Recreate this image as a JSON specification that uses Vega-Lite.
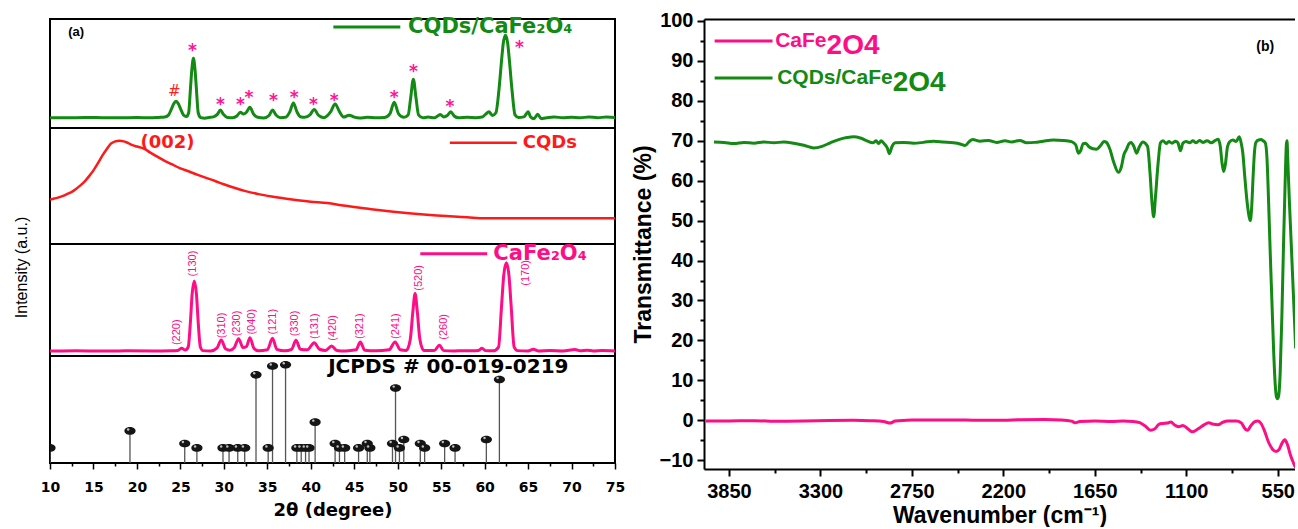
{
"$schema": "https://vega.github.io/schema/vega-lite/v6.json",
"background": "white",
"padding": {"left": 14, "top": 10, "right": 0, "bottom": 0},
"config": {"view": {"stroke": null}, "axis": {"grid": false, "domainColor": "black", "tickColor": "black", "labelColor": "black", "titleColor": "black"}},
"datasets": {
"gx": [{"t":10,"i":9.5},{"t":12,"i":9.4},{"t":14,"i":9.6},{"t":16,"i":9.5},{"t":18,"i":9.4},{"t":20,"i":9.6},{"t":21.5,"i":9.4},{"t":22.5,"i":9.7},{"t":23.2,"i":10},{"t":23.6,"i":11.5},{"t":24.0,"i":18},{"t":24.25,"i":22.5},{"t":24.5,"i":24.5},{"t":24.75,"i":22.5},{"t":25.0,"i":18},{"t":25.35,"i":12},{"t":25.7,"i":10.5},{"t":25.95,"i":14},{"t":26.15,"i":35},{"t":26.3,"i":52},{"t":26.5,"i":63.9},{"t":26.7,"i":52},{"t":26.85,"i":35},{"t":27.05,"i":14},{"t":27.35,"i":9.5},{"t":27.8,"i":9},{"t":28.3,"i":9.6},{"t":28.8,"i":10.2},{"t":29.25,"i":12.5},{"t":29.6,"i":16.4},{"t":29.95,"i":12.5},{"t":30.4,"i":9.6},{"t":31.0,"i":9.4},{"t":31.5,"i":11},{"t":31.9,"i":14.5},{"t":32.25,"i":12.8},{"t":32.6,"i":14.5},{"t":33.0,"i":19.1},{"t":33.4,"i":13},{"t":33.9,"i":9.8},{"t":34.6,"i":9.2},{"t":35.2,"i":11.5},{"t":35.6,"i":16.4},{"t":36.0,"i":12},{"t":36.5,"i":9.5},{"t":37.1,"i":9.8},{"t":37.6,"i":15},{"t":38.0,"i":23},{"t":38.4,"i":15},{"t":38.8,"i":10.3},{"t":39.3,"i":9.8},{"t":39.9,"i":12},{"t":40.4,"i":17},{"t":40.9,"i":11.5},{"t":41.5,"i":9.5},{"t":42.3,"i":15},{"t":42.8,"i":22},{"t":43.3,"i":15},{"t":43.8,"i":10},{"t":44.4,"i":11.8},{"t":45.0,"i":10},{"t":45.6,"i":9.2},{"t":46.5,"i":9.8},{"t":47.5,"i":9.3},{"t":48.5,"i":9.7},{"t":49.1,"i":13},{"t":49.6,"i":23.6},{"t":50.1,"i":13},{"t":50.7,"i":9.8},{"t":51.2,"i":12},{"t":51.5,"i":28},{"t":51.8,"i":44.8},{"t":52.1,"i":28},{"t":52.4,"i":12},{"t":52.9,"i":9.3},{"t":53.5,"i":10},{"t":54.2,"i":9.3},{"t":54.6,"i":11},{"t":54.9,"i":12.4},{"t":55.3,"i":10.2},{"t":55.7,"i":11.5},{"t":56.1,"i":14.8},{"t":56.5,"i":11},{"t":57.0,"i":9.3},{"t":58.0,"i":9.8},{"t":59.0,"i":9.5},{"t":59.7,"i":10},{"t":60.1,"i":12.5},{"t":60.5,"i":14.8},{"t":60.9,"i":11.5},{"t":61.3,"i":14},{"t":61.65,"i":35},{"t":61.95,"i":62},{"t":62.15,"i":78},{"t":62.4,"i":85.2},{"t":62.65,"i":78},{"t":62.85,"i":62},{"t":63.15,"i":35},{"t":63.5,"i":12},{"t":63.9,"i":9.6},{"t":64.5,"i":10.2},{"t":64.8,"i":13},{"t":65.0,"i":14.8},{"t":65.3,"i":10},{"t":65.7,"i":8.6},{"t":66.1,"i":12.7},{"t":66.5,"i":8.6},{"t":67.0,"i":9.2},{"t":68.0,"i":10},{"t":69.0,"i":9.5},{"t":70.0,"i":9.9},{"t":71.0,"i":9.4},{"t":72.0,"i":10.1},{"t":73.0,"i":9.5},{"t":74.0,"i":10},{"t":75.0,"i":9.6}],
"rx": [{"t":10,"i":38.3},{"t":10.5,"i":39.2},{"t":11,"i":40.2},{"t":11.5,"i":41.5},{"t":12,"i":43.2},{"t":12.5,"i":45},{"t":13,"i":47.5},{"t":13.5,"i":50.5},{"t":14,"i":54},{"t":14.5,"i":58.5},{"t":15,"i":63.5},{"t":15.5,"i":69.5},{"t":16,"i":76},{"t":16.5,"i":81.5},{"t":17,"i":86.5},{"t":17.5,"i":88.5},{"t":18,"i":89.1},{"t":18.5,"i":88.5},{"t":19,"i":87},{"t":19.5,"i":85.2},{"t":20,"i":84},{"t":20.8,"i":82.3},{"t":21.5,"i":79},{"t":22.3,"i":75.5},{"t":23.1,"i":72.1},{"t":24,"i":68.8},{"t":25,"i":65.2},{"t":26,"i":62.5},{"t":27,"i":59.6},{"t":27.8,"i":57.4},{"t":29,"i":54.3},{"t":30,"i":51.5},{"t":31.2,"i":48.5},{"t":32.5,"i":45.6},{"t":34,"i":43},{"t":35.5,"i":41},{"t":37.2,"i":39.1},{"t":38.5,"i":37.8},{"t":40,"i":36.5},{"t":41.9,"i":35.3},{"t":43.5,"i":33.5},{"t":45,"i":31.8},{"t":46.6,"i":30.3},{"t":48,"i":29},{"t":49.5,"i":27.8},{"t":51.3,"i":26.5},{"t":53,"i":25.4},{"t":54.5,"i":24.6},{"t":56,"i":23.9},{"t":58,"i":23},{"t":60,"i":22.1},{"t":62,"i":22.1},{"t":65,"i":22.1},{"t":70,"i":22.1},{"t":75,"i":22.1}],
"px": [{"t":10,"i":4.5},{"t":13,"i":4.6},{"t":16,"i":4.4},{"t":19,"i":4.6},{"t":22,"i":4.5},{"t":24,"i":4.6},{"t":24.7,"i":5},{"t":25.15,"i":6.9},{"t":25.55,"i":5.3},{"t":25.9,"i":8},{"t":26.15,"i":30},{"t":26.35,"i":55},{"t":26.6,"i":67},{"t":26.85,"i":55},{"t":27.05,"i":30},{"t":27.3,"i":8},{"t":27.6,"i":4.8},{"t":28.5,"i":4.5},{"t":29.2,"i":7},{"t":29.7,"i":14.3},{"t":30.2,"i":6.5},{"t":30.7,"i":5.2},{"t":31.2,"i":7.5},{"t":31.7,"i":15.5},{"t":32.2,"i":7.5},{"t":32.6,"i":8.5},{"t":33.0,"i":16.4},{"t":33.45,"i":7},{"t":34.0,"i":4.7},{"t":35.0,"i":5.5},{"t":35.6,"i":15.8},{"t":36.1,"i":6},{"t":37.0,"i":4.6},{"t":37.8,"i":6},{"t":38.3,"i":14},{"t":38.8,"i":6},{"t":39.6,"i":5.5},{"t":40.4,"i":11.9},{"t":41.0,"i":6},{"t":41.7,"i":5},{"t":42.4,"i":8.9},{"t":43.0,"i":5},{"t":44.0,"i":4.5},{"t":45.2,"i":5.5},{"t":45.7,"i":12.5},{"t":46.2,"i":5.2},{"t":47.5,"i":4.6},{"t":49.0,"i":5.5},{"t":49.7,"i":12.5},{"t":50.3,"i":5.5},{"t":51.0,"i":5},{"t":51.45,"i":15},{"t":51.75,"i":40},{"t":52.0,"i":55.7},{"t":52.25,"i":40},{"t":52.55,"i":15},{"t":53.0,"i":5},{"t":54.2,"i":4.8},{"t":54.8,"i":9.5},{"t":55.3,"i":4.8},{"t":56.5,"i":4.5},{"t":57.5,"i":4.7},{"t":58.5,"i":4.6},{"t":59.3,"i":5},{"t":59.7,"i":6.9},{"t":60.1,"i":4.8},{"t":61.0,"i":4.6},{"t":61.6,"i":8},{"t":61.95,"i":45},{"t":62.2,"i":72},{"t":62.5,"i":83.3},{"t":62.8,"i":72},{"t":63.05,"i":45},{"t":63.4,"i":8},{"t":63.8,"i":4.8},{"t":65.0,"i":4.5},{"t":65.6,"i":6},{"t":66.2,"i":4.5},{"t":67.5,"i":4.8},{"t":69.0,"i":4.5},{"t":70.4,"i":5.8},{"t":71.0,"i":4.6},{"t":71.8,"i":5.2},{"t":72.5,"i":4.5},{"t":73.5,"i":4.8},{"t":75,"i":4.5}],
"jc": [{"t":10,"i":14.1},{"t":19.2,"i":30},{"t":25.5,"i":18.2},{"t":26.9,"i":14.1},{"t":29.9,"i":14.1},{"t":30.6,"i":14.1},{"t":31.6,"i":14.1},{"t":32.4,"i":14.1},{"t":33.7,"i":82.4},{"t":35.1,"i":14.1},{"t":35.6,"i":90.6},{"t":37.1,"i":91.8},{"t":38.4,"i":14.1},{"t":38.9,"i":14.1},{"t":39.4,"i":14.1},{"t":39.8,"i":14.1},{"t":40.5,"i":38.2},{"t":42.8,"i":18.2},{"t":43.3,"i":14.1},{"t":43.9,"i":14.1},{"t":45.5,"i":14.1},{"t":46.5,"i":18.2},{"t":46.8,"i":14.1},{"t":49.4,"i":18.2},{"t":49.75,"i":70},{"t":50.2,"i":14.1},{"t":50.7,"i":22},{"t":52.6,"i":18.2},{"t":53.1,"i":14.1},{"t":55.4,"i":18.2},{"t":56.6,"i":14.1},{"t":60.2,"i":22},{"t":61.7,"i":78}],
"stars": [{"t":26.4,"i":70.6},{"t":29.6,"i":21.5},{"t":31.9,"i":21.5},{"t":32.9,"i":27.6},{"t":35.7,"i":25.2},{"t":38.1,"i":27.6},{"t":40.3,"i":21.5},{"t":42.7,"i":25.2},{"t":49.6,"i":27.6},{"t":51.8,"i":51.2},{"t":56.0,"i":19.1},{"t":64.0,"i":73}],
"hkl": [{"t":24.6,"i":8.0,"label":"(220)"},{"t":26.5,"i":69.3,"label":"(130)"},{"t":29.75,"i":14,"label":"(310)"},{"t":31.55,"i":15.8,"label":"(230)"},{"t":33.2,"i":17.3,"label":"(040)"},{"t":35.7,"i":17.3,"label":"(121)"},{"t":38.2,"i":15.8,"label":"(330)"},{"t":40.5,"i":13.4,"label":"(131)"},{"t":42.6,"i":11.9,"label":"(420)"},{"t":45.7,"i":13.4,"label":"(321)"},{"t":49.8,"i":13.4,"label":"(241)"},{"t":52.5,"i":56.5,"label":"(520)"},{"t":55.3,"i":12.8,"label":"(260)"},{"t":64.8,"i":61,"label":"(170)"}],
"fg": [{"w":3940,"T":69.7},{"w":3880,"T":69.6},{"w":3820,"T":69.3},{"w":3760,"T":69.6},{"w":3700,"T":69.4},{"w":3640,"T":69.7},{"w":3580,"T":69.5},{"w":3520,"T":69.7},{"w":3460,"T":69.4},{"w":3400,"T":68.9},{"w":3340,"T":68.2},{"w":3290,"T":68.6},{"w":3240,"T":69.5},{"w":3190,"T":70.3},{"w":3140,"T":70.8},{"w":3100,"T":71.0},{"w":3060,"T":70.7},{"w":3020,"T":70.0},{"w":2985,"T":69.5},{"w":2965,"T":70.0},{"w":2950,"T":69.3},{"w":2935,"T":70.0},{"w":2915,"T":69.2},{"w":2898,"T":68.2},{"w":2885,"T":66.8},{"w":2870,"T":68.5},{"w":2850,"T":69.5},{"w":2800,"T":69.6},{"w":2740,"T":69.4},{"w":2680,"T":69.6},{"w":2620,"T":69.9},{"w":2560,"T":69.7},{"w":2500,"T":69.5},{"w":2460,"T":69.2},{"w":2430,"T":68.8},{"w":2405,"T":69.8},{"w":2385,"T":70.3},{"w":2340,"T":69.9},{"w":2290,"T":70.1},{"w":2240,"T":69.6},{"w":2190,"T":70.0},{"w":2150,"T":69.7},{"w":2100,"T":70.1},{"w":2060,"T":69.5},{"w":2010,"T":69.6},{"w":1960,"T":69.9},{"w":1900,"T":70.2},{"w":1840,"T":70.1},{"w":1790,"T":69.8},{"w":1765,"T":69.0},{"w":1748,"T":66.9},{"w":1735,"T":67.5},{"w":1720,"T":69.3},{"w":1705,"T":69.4},{"w":1685,"T":68.5},{"w":1660,"T":68.0},{"w":1640,"T":67.9},{"w":1615,"T":68.8},{"w":1595,"T":69.8},{"w":1580,"T":69.6},{"w":1560,"T":68.0},{"w":1535,"T":64.5},{"w":1508,"T":62.1},{"w":1490,"T":63.5},{"w":1475,"T":66.5},{"w":1460,"T":67.8},{"w":1445,"T":69.2},{"w":1432,"T":69.6},{"w":1415,"T":68.6},{"w":1398,"T":66.9},{"w":1382,"T":68.5},{"w":1360,"T":69.7},{"w":1345,"T":69.3},{"w":1332,"T":68.5},{"w":1318,"T":62},{"w":1305,"T":54},{"w":1296,"T":51},{"w":1285,"T":56},{"w":1270,"T":64},{"w":1255,"T":69.5},{"w":1240,"T":70.0},{"w":1220,"T":69.3},{"w":1205,"T":69.8},{"w":1185,"T":69.4},{"w":1165,"T":69.9},{"w":1150,"T":69.5},{"w":1135,"T":67.5},{"w":1120,"T":69.4},{"w":1100,"T":69.8},{"w":1080,"T":69.5},{"w":1060,"T":70.0},{"w":1040,"T":69.5},{"w":1020,"T":70.1},{"w":1000,"T":69.6},{"w":975,"T":70.0},{"w":950,"T":69.5},{"w":925,"T":70.1},{"w":908,"T":70.4},{"w":895,"T":68.5},{"w":885,"T":64.5},{"w":875,"T":62.3},{"w":865,"T":64},{"w":852,"T":68.5},{"w":840,"T":69.7},{"w":820,"T":70.2},{"w":800,"T":69.8},{"w":781,"T":71},{"w":770,"T":69.5},{"w":760,"T":67},{"w":748,"T":61},{"w":735,"T":55},{"w":722,"T":51},{"w":715,"T":50},{"w":707,"T":53},{"w":698,"T":61},{"w":690,"T":67},{"w":681,"T":69.6},{"w":665,"T":70.2},{"w":650,"T":70.3},{"w":638,"T":70.0},{"w":625,"T":69.5},{"w":615,"T":66},{"w":605,"T":55},{"w":595,"T":42},{"w":585,"T":30},{"w":575,"T":18},{"w":565,"T":9},{"w":557,"T":5.8},{"w":550,"T":5.4},{"w":543,"T":6.5},{"w":535,"T":12},{"w":525,"T":26},{"w":515,"T":44},{"w":505,"T":60},{"w":498,"T":69},{"w":494,"T":70},{"w":490,"T":66},{"w":480,"T":55},{"w":470,"T":45.5},{"w":460,"T":35.7},{"w":450,"T":26},{"w":442,"T":18}],
"fp": [{"w":3990,"T":-0.2},{"w":3850,"T":-0.15},{"w":3700,"T":-0.1},{"w":3550,"T":-0.25},{"w":3400,"T":-0.2},{"w":3250,"T":-0.05},{"w":3100,"T":0},{"w":3000,"T":-0.1},{"w":2920,"T":-0.3},{"w":2882,"T":-0.7},{"w":2850,"T":-0.2},{"w":2750,"T":0.05},{"w":2650,"T":0.1},{"w":2500,"T":0.1},{"w":2350,"T":0},{"w":2200,"T":0},{"w":2100,"T":0.15},{"w":1950,"T":0.2},{"w":1850,"T":0.1},{"w":1790,"T":-0.2},{"w":1768,"T":-0.6},{"w":1740,"T":-0.3},{"w":1650,"T":-0.2},{"w":1550,"T":-0.3},{"w":1480,"T":-0.2},{"w":1420,"T":-0.3},{"w":1380,"T":-0.6},{"w":1345,"T":-1.5},{"w":1315,"T":-2.5},{"w":1290,"T":-2.2},{"w":1265,"T":-1.0},{"w":1240,"T":-0.8},{"w":1215,"T":-0.7},{"w":1192,"T":-0.4},{"w":1170,"T":-1.2},{"w":1145,"T":-1.6},{"w":1120,"T":-1.3},{"w":1100,"T":-1.8},{"w":1062,"T":-2.9},{"w":1030,"T":-2.2},{"w":995,"T":-1.2},{"w":965,"T":-0.6},{"w":935,"T":-1.0},{"w":910,"T":-1.1},{"w":880,"T":-0.5},{"w":850,"T":-0.2},{"w":800,"T":-0.2},{"w":770,"T":-0.6},{"w":745,"T":-2.2},{"w":731,"T":-2.5},{"w":712,"T":-1.4},{"w":690,"T":-0.4},{"w":670,"T":-0.2},{"w":650,"T":-0.8},{"w":630,"T":-2.6},{"w":605,"T":-5.5},{"w":580,"T":-7.3},{"w":560,"T":-7.8},{"w":540,"T":-7.2},{"w":525,"T":-5.8},{"w":508,"T":-4.9},{"w":492,"T":-6},{"w":475,"T":-8.5},{"w":460,"T":-10.2},{"w":450,"T":-11.2},{"w":442,"T":-11.8}]
},
"spacing": 6,
"hconcat": [
{
"bounds": "flush",
"spacing": 0,
"title": {"text": "Intensity (a.u.)", "orient": "left", "anchor": "middle", "font": "Liberation Sans Narrow, Liberation Sans", "fontSize": 16, "fontWeight": "normal", "color": "black", "offset": 9},
"vconcat": [
{
"width": 565, "height": 109,
"view": {"stroke": "black", "strokeWidth": 2},
"layer": [
{"data": {"name": "gx"}, "mark": {"type": "line", "color": "#138a13", "strokeWidth": 3, "interpolate": "monotone", "clip": true},
 "encoding": {"x": {"field": "t", "type": "quantitative", "scale": {"domain": [10, 75], "nice": false}, "axis": null}, "y": {"field": "i", "type": "quantitative", "scale": {"domain": [0, 100], "nice": false}, "axis": null}}},
{"data": {"values": [{"t": 42.6, "t2": 50.3, "i": 92.7}]}, "mark": {"type": "rule", "color": "#138a13", "strokeWidth": 3},
 "encoding": {"x": {"field": "t", "type": "quantitative", "scale": {"domain": [10, 75], "nice": false}, "axis": null}, "x2": {"field": "t2"}, "y": {"field": "i", "type": "quantitative", "scale": {"domain": [0, 100], "nice": false}, "axis": null}}},
{"data": {"values": [{"t": 51.2, "i": 92.7, "label": "CQDs/CaFe₂O₄"}]}, "mark": {"type": "text", "align": "left", "baseline": "middle", "font": "DejaVu Sans", "fontWeight": "bold", "fontSize": 21, "color": "#138a13"},
 "encoding": {"x": {"field": "t", "type": "quantitative", "scale": {"domain": [10, 75], "nice": false}, "axis": null}, "y": {"field": "i", "type": "quantitative", "scale": {"domain": [0, 100], "nice": false}, "axis": null}, "text": {"field": "label"}}},
{"data": {"name": "stars"}, "mark": {"type": "text", "text": "*", "align": "center", "baseline": "middle", "font": "DejaVu Sans", "fontWeight": "bold", "fontSize": 17, "color": "#ff1493"},
 "encoding": {"x": {"field": "t", "type": "quantitative", "scale": {"domain": [10, 75], "nice": false}, "axis": null}, "y": {"field": "i", "type": "quantitative", "scale": {"domain": [0, 100], "nice": false}, "axis": null}}},
{"data": {"values": [{"t": 24.3, "i": 33.6, "label": "#"}]}, "mark": {"type": "text", "align": "center", "baseline": "middle", "font": "DejaVu Sans", "fontWeight": "normal", "fontSize": 15, "color": "#ff2020"},
 "encoding": {"x": {"field": "t", "type": "quantitative", "scale": {"domain": [10, 75], "nice": false}, "axis": null}, "y": {"field": "i", "type": "quantitative", "scale": {"domain": [0, 100], "nice": false}, "axis": null}, "text": {"field": "label"}}},
{"data": {"values": [{"t": 12.1, "i": 88, "label": "(a)"}]}, "mark": {"type": "text", "align": "left", "baseline": "middle", "font": "Liberation Sans", "fontWeight": "bold", "fontSize": 13, "color": "black"},
 "encoding": {"x": {"field": "t", "type": "quantitative", "scale": {"domain": [10, 75], "nice": false}, "axis": null}, "y": {"field": "i", "type": "quantitative", "scale": {"domain": [0, 100], "nice": false}, "axis": null}, "text": {"field": "label"}}}
]
},
{
"width": 565, "height": 116,
"view": {"stroke": "black", "strokeWidth": 2},
"layer": [
{"data": {"name": "rx"}, "mark": {"type": "line", "color": "#ff1a1a", "strokeWidth": 2.5, "interpolate": "monotone", "clip": true},
 "encoding": {"x": {"field": "t", "type": "quantitative", "scale": {"domain": [10, 75], "nice": false}, "axis": null}, "y": {"field": "i", "type": "quantitative", "scale": {"domain": [0, 100], "nice": false}, "axis": null}}},
{"data": {"values": [{"t": 56.0, "t2": 63.7, "i": 87.3}]}, "mark": {"type": "rule", "color": "#ff1a1a", "strokeWidth": 2.5},
 "encoding": {"x": {"field": "t", "type": "quantitative", "scale": {"domain": [10, 75], "nice": false}, "axis": null}, "x2": {"field": "t2"}, "y": {"field": "i", "type": "quantitative", "scale": {"domain": [0, 100], "nice": false}, "axis": null}}},
{"data": {"values": [{"t": 64.4, "i": 87.3, "label": "CQDs"}, {"t": 20.4, "i": 87.5, "label": "(002)"}]}, "mark": {"type": "text", "align": "left", "baseline": "middle", "font": "DejaVu Sans", "fontWeight": "bold", "fontSize": 18, "color": "#ff1a1a"},
 "encoding": {"x": {"field": "t", "type": "quantitative", "scale": {"domain": [10, 75], "nice": false}, "axis": null}, "y": {"field": "i", "type": "quantitative", "scale": {"domain": [0, 100], "nice": false}, "axis": null}, "text": {"field": "label"}}}
]
},
{
"width": 565, "height": 112,
"view": {"stroke": "black", "strokeWidth": 2},
"layer": [
{"data": {"name": "px"}, "mark": {"type": "line", "color": "#ff0d86", "strokeWidth": 3, "interpolate": "monotone", "clip": true},
 "encoding": {"x": {"field": "t", "type": "quantitative", "scale": {"domain": [10, 75], "nice": false}, "axis": null}, "y": {"field": "i", "type": "quantitative", "scale": {"domain": [0, 100], "nice": false}, "axis": null}}},
{"data": {"values": [{"t": 52.6, "t2": 60.3, "i": 91.3}]}, "mark": {"type": "rule", "color": "#ff0d86", "strokeWidth": 3},
 "encoding": {"x": {"field": "t", "type": "quantitative", "scale": {"domain": [10, 75], "nice": false}, "axis": null}, "x2": {"field": "t2"}, "y": {"field": "i", "type": "quantitative", "scale": {"domain": [0, 100], "nice": false}, "axis": null}}},
{"data": {"values": [{"t": 61.0, "i": 91.3, "label": "CaFe₂O₄"}]}, "mark": {"type": "text", "align": "left", "baseline": "middle", "font": "DejaVu Sans", "fontWeight": "bold", "fontSize": 21, "color": "#ff0d86"},
 "encoding": {"x": {"field": "t", "type": "quantitative", "scale": {"domain": [10, 75], "nice": false}, "axis": null}, "y": {"field": "i", "type": "quantitative", "scale": {"domain": [0, 100], "nice": false}, "axis": null}, "text": {"field": "label"}}},
{"data": {"name": "hkl"}, "mark": {"type": "text", "angle": 270, "align": "left", "baseline": "middle", "dx": 2, "font": "Liberation Sans Narrow, Liberation Sans", "fontSize": 11, "color": "#ff0d86"},
 "encoding": {"x": {"field": "t", "type": "quantitative", "scale": {"domain": [10, 75], "nice": false}, "axis": null}, "y": {"field": "i", "type": "quantitative", "scale": {"domain": [0, 100], "nice": false}, "axis": null}, "text": {"field": "label"}}}
]
},
{
"width": 565, "height": 107,
"view": {"stroke": "black", "strokeWidth": 2},
"resolve": {"axis": {"x": "independent"}},
"layer": [
{"data": {"name": "jc"}, "mark": {"type": "rule", "color": "#555555", "strokeWidth": 1.3, "clip": true},
 "encoding": {"x": {"field": "t", "type": "quantitative", "scale": {"domain": [10, 75], "nice": false},
   "axis": {"orient": "bottom", "values": [10, 15, 20, 25, 30, 35, 40, 45, 50, 55, 60, 65, 70, 75], "domain": false, "tickSize": 6, "tickWidth": 1.5, "labelFont": "DejaVu Sans", "labelFontWeight": "bold", "labelFontSize": 14, "labelPadding": 11, "labelFlush": false, "title": "2θ (degree)", "titleFont": "DejaVu Sans", "titleFontWeight": "bold", "titleFontSize": 18, "titlePadding": 7}},
  "y": {"field": "i", "type": "quantitative", "scale": {"domain": [0, 100], "nice": false}, "axis": null}, "y2": {"datum": 0}}},
{"data": {"name": "jc"}, "mark": {"type": "point", "filled": true, "shape": "M -1.25 0 A 1.25 0.85 0 1 1 1.25 0 A 1.25 0.85 0 1 1 -1.25 0 Z", "size": 80, "color": "#151515", "opacity": 1, "clip": true},
 "encoding": {"x": {"field": "t", "type": "quantitative", "scale": {"domain": [10, 75], "nice": false},
   "axis": {"orient": "bottom", "values": [12.5, 17.5, 22.5, 27.5, 32.5, 37.5, 42.5, 47.5, 52.5, 57.5, 62.5, 67.5, 72.5], "domain": false, "tickSize": 3, "tickWidth": 1.5, "labels": false, "title": null}},
  "y": {"field": "i", "type": "quantitative", "scale": {"domain": [0, 100], "nice": false}, "axis": null}}},
{"data": {"name": "jc"}, "mark": {"type": "point", "filled": true, "shape": "circle", "size": 6, "color": "#d0d0d0", "opacity": 0.9, "xOffset": -1.8, "yOffset": -1.5, "clip": true},
 "encoding": {"x": {"field": "t", "type": "quantitative", "scale": {"domain": [10, 75], "nice": false}, "axis": null},
  "y": {"field": "i", "type": "quantitative", "scale": {"domain": [0, 100], "nice": false}, "axis": null}}},
{"data": {"values": [{"t": 42.0, "i": 89.7, "label": "JCPDS # 00-019-0219"}]}, "mark": {"type": "text", "align": "left", "baseline": "middle", "font": "DejaVu Sans", "fontWeight": "bold", "fontSize": 20, "color": "black", "clip": true},
 "encoding": {"x": {"field": "t", "type": "quantitative", "scale": {"domain": [10, 75], "nice": false}, "axis": null}, "y": {"field": "i", "type": "quantitative", "scale": {"domain": [0, 100], "nice": false}, "axis": null}, "text": {"field": "label"}}}
]
}
]
},
{
"width": 591, "height": 450,
"resolve": {"axis": {"x": "independent", "y": "independent"}},
"layer": [
{"data": {"name": "fg"}, "mark": {"type": "line", "color": "#138a13", "strokeWidth": 3, "interpolate": "monotone", "clip": true},
 "encoding": {
  "x": {"field": "w", "type": "quantitative", "scale": {"domain": [446, 4000], "reverse": true, "nice": false, "zero": false},
   "axis": {"orient": "bottom", "values": [3850, 3300, 2750, 2200, 1650, 1100, 550], "format": "d", "tickSize": 7, "tickWidth": 2, "domainWidth": 2, "labelFont": "Liberation Sans", "labelFontWeight": "bold", "labelFontSize": 20, "labelPadding": 5, "labelFlush": false, "title": "Wavenumber (cm⁻¹)", "titleFont": "Liberation Sans", "titleFontWeight": "bold", "titleFontSize": 23, "titlePadding": 3}},
  "y": {"field": "T", "type": "quantitative", "scale": {"domain": [-12.2, 100.5], "nice": false, "zero": false},
   "axis": {"orient": "left", "values": [-10, 0, 10, 20, 30, 40, 50, 60, 70, 80, 90, 100], "format": "d", "tickSize": 7, "tickWidth": 2, "domainWidth": 2, "labelFont": "Liberation Sans", "labelFontWeight": "bold", "labelFontSize": 20, "labelPadding": 4, "labelFlush": false, "title": "Transmittance (%)", "titleFont": "Liberation Sans", "titleFontWeight": "bold", "titleFontSize": 23, "titlePadding": 4}},
  "order": {"field": "w", "sort": "descending"}}},
{"data": {"name": "fp"}, "mark": {"type": "line", "color": "#ff0d86", "strokeWidth": 3, "interpolate": "monotone", "clip": true},
 "encoding": {
  "x": {"field": "w", "type": "quantitative", "scale": {"domain": [446, 4000], "reverse": true, "nice": false, "zero": false},
   "axis": {"orient": "bottom", "values": [3575, 3025, 2475, 1925, 1375, 825], "tickSize": 4, "tickWidth": 2, "domain": false, "labels": false, "title": null}},
  "y": {"field": "T", "type": "quantitative", "scale": {"domain": [-12.2, 100.5], "nice": false, "zero": false},
   "axis": {"orient": "left", "values": [-5, 5, 15, 25, 35, 45, 55, 65, 75, 85, 95], "tickSize": 4, "tickWidth": 2, "domain": false, "labels": false, "title": null}},
  "order": {"field": "w", "sort": "descending"}}},
{"data": {"values": [{"w": 3936, "w2": 3588, "T": 95, "s": "CaFe2O4"}, {"w": 3936, "w2": 3588, "T": 85.7, "s": "CQDs/CaFe2O4"}]}, "mark": {"type": "rule", "strokeWidth": 3},
 "encoding": {
  "x": {"field": "w", "type": "quantitative", "scale": {"domain": [446, 4000], "reverse": true, "nice": false, "zero": false},
   "axis": {"orient": "top", "domainWidth": 2, "ticks": false, "labels": false, "title": null}},
  "x2": {"field": "w2"},
  "y": {"field": "T", "type": "quantitative", "scale": {"domain": [-12.2, 100.5], "nice": false, "zero": false}, "axis": null},
  "color": {"field": "s", "type": "nominal", "scale": {"domain": ["CaFe2O4", "CQDs/CaFe2O4"], "range": ["#ff0d86", "#138a13"]}, "legend": null}}},
{"data": {"values": [{"w": 3572, "T": 95, "s": "CaFe2O4", "t": "CaFe"}, {"w": 3560, "T": 85.7, "s": "CQDs/CaFe2O4", "t": "CQDs/CaFe"}]}, "mark": {"type": "text", "align": "left", "baseline": "middle", "font": "Liberation Sans", "fontWeight": "bold", "fontSize": 21},
 "encoding": {
  "x": {"field": "w", "type": "quantitative", "scale": {"domain": [446, 4000], "reverse": true, "nice": false, "zero": false}, "axis": null},
  "y": {"field": "T", "type": "quantitative", "scale": {"domain": [-12.2, 100.5], "nice": false, "zero": false}, "axis": null},
  "text": {"field": "t"},
  "color": {"field": "s", "type": "nominal", "scale": {"domain": ["CaFe2O4", "CQDs/CaFe2O4"], "range": ["#ff0d86", "#138a13"]}, "legend": null}}},
{"data": {"values": [{"w": 3263, "T": 95, "s": "CaFe2O4", "t": "2O4"}, {"w": 2865, "T": 85.7, "s": "CQDs/CaFe2O4", "t": "2O4"}]}, "mark": {"type": "text", "align": "left", "baseline": "middle", "dy": 5, "font": "Liberation Sans", "fontWeight": "bold", "fontSize": 28},
 "encoding": {
  "x": {"field": "w", "type": "quantitative", "scale": {"domain": [446, 4000], "reverse": true, "nice": false, "zero": false}, "axis": null},
  "y": {"field": "T", "type": "quantitative", "scale": {"domain": [-12.2, 100.5], "nice": false, "zero": false}, "axis": null},
  "text": {"field": "t"},
  "color": {"field": "s", "type": "nominal", "scale": {"domain": ["CaFe2O4", "CQDs/CaFe2O4"], "range": ["#ff0d86", "#138a13"]}, "legend": null}}},
{"data": {"values": [{"w": 625, "T": 93.5, "t": "(b)"}]}, "mark": {"type": "text", "align": "center", "baseline": "middle", "font": "Liberation Sans", "fontWeight": "bold", "fontSize": 14, "color": "black"},
 "encoding": {
  "x": {"field": "w", "type": "quantitative", "scale": {"domain": [446, 4000], "reverse": true, "nice": false, "zero": false}, "axis": null},
  "y": {"field": "T", "type": "quantitative", "scale": {"domain": [-12.2, 100.5], "nice": false, "zero": false}, "axis": null},
  "text": {"field": "t"}}}
]
}
]
}
